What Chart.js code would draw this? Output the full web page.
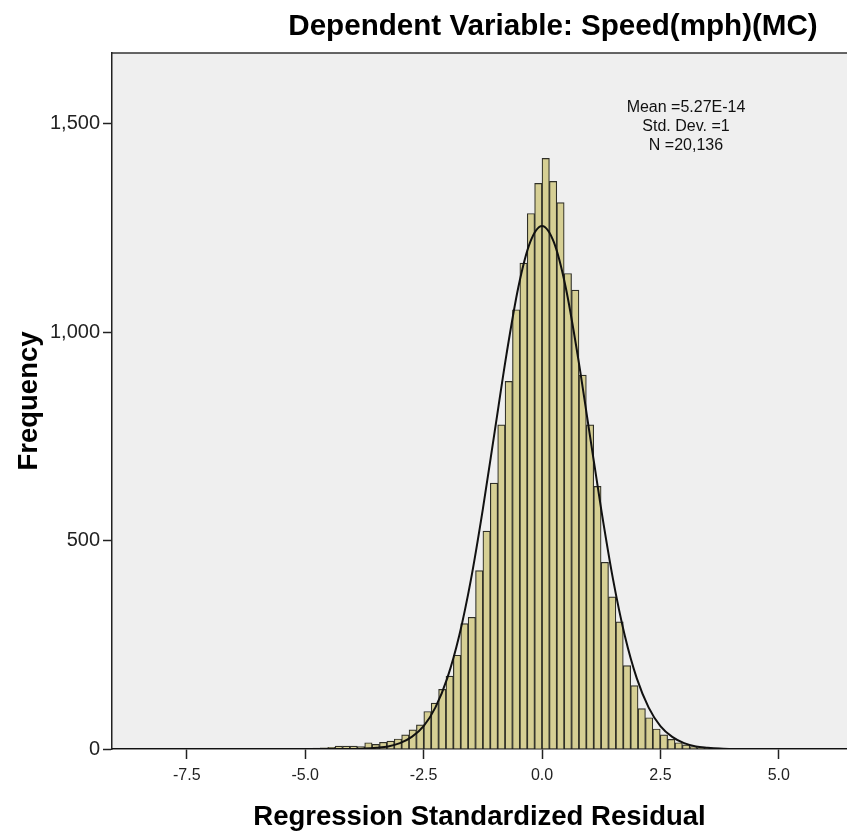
<!DOCTYPE html>
<html><head><meta charset="utf-8">
<script src="https://cdn.jsdelivr.net/npm/chart.js@4.4.1/dist/chart.umd.min.js"></script>
<style>html,body{margin:0;padding:0;background:#fff;}#wrap{width:847px;height:837px;position:relative;}</style>
</head><body><div id="wrap"><canvas id="c" width="847" height="837"></canvas></div>
<script>
const chartTitle = 'Dependent Variable: Speed(mph)(MC)';
const xAxisTitle = 'Regression Standardized Residual';
const yAxisTitle = 'Frequency';
const statsLines = ['Mean =5.27E-14', 'Std. Dev. =1', 'N =20,136'];

// Histogram bins (equal width), counts, left to right
const binWidth = 0.156;
const firstBinStart = -6.552;
const binCounts = [
  1, 0, 1, 0, 0, 1, 0, 1, 1, 0,
  1, 2, 3, 4, 7, 7, 7, 6, 15, 11,
  16, 19, 24, 34, 46, 58, 90, 110, 143, 175,
  225, 301, 316, 428, 523, 638, 778, 882, 1054, 1166,
  1285, 1357,
  1417, 1362, 1311, 1141, 1101, 897, 778, 630, 448, 365,
  305, 200, 152, 97, 75, 48, 34, 23, 15, 10,
  6, 3, 2, 2, 1, 1, 1, 0, 1, 0,
  0, 1, 0, 0, 1
];

// Normal curve
const curveX = [-9.08, -5, -4.5, -4.25, -4, -3.75, -3.5, -3.25, -3, -2.75, -2.5, -2.25, -2, -1.75, -1.5, -1.25, -1, -0.75, -0.5, -0.25, 0,
                0.25, 0.5, 0.75, 1, 1.25, 1.5, 1.75, 2, 2.25, 2.5, 2.75, 3, 3.25, 3.5, 3.75, 4, 4.25, 4.5, 6.44];
const curveY = [0, 0, 0, 0, 0, 1, 3, 6, 14, 29, 55, 100, 170, 271, 407, 575, 761, 947, 1108, 1216, 1255,
                1216, 1108, 947, 761, 575, 407, 271, 170, 100, 55, 29, 14, 6, 3, 1, 0, 0, 0, 0];

const xTicks = [-7.5, -5.0, -2.5, 0.0, 2.5, 5.0];
const yTicks = [0, 500, 1000, 1500];

const FONT = '"Liberation Sans", Arial, Helvetica, sans-serif';

const bgPlugin = {
  id: 'bg',
  beforeDraw(chart) {
    const {ctx, chartArea: a} = chart;
    ctx.save();
    ctx.fillStyle = '#efefef';
    ctx.fillRect(a.left, a.top, a.right - a.left, a.bottom - a.top);
    ctx.strokeStyle = '#333';
    ctx.lineWidth = 1.5;
    ctx.beginPath();
    ctx.moveTo(a.left, a.top);
    ctx.lineTo(a.right, a.top);
    ctx.stroke();
    ctx.restore();
  },
  afterDraw(chart) {
    const {ctx} = chart;
    ctx.save();
    ctx.fillStyle = '#000';
    ctx.textAlign = 'center';
    ctx.textBaseline = 'middle';
    ctx.font = 'bold 29.6px ' + FONT;
    ctx.fillText(chartTitle, 553, 27);
    ctx.font = '16px ' + FONT;
    ctx.fillStyle = '#111';
    statsLines.forEach((t, i) => ctx.fillText(t, 686, 108 + i * 19));
    ctx.restore();
  }
};

const chart = new Chart(document.getElementById('c'), {
  data: {
    datasets: [
      {
        type: 'line', order: 0,
        data: curveX.map((x, i) => ({x, y: curveY[i]})),
        borderColor: '#111', borderWidth: 2, pointRadius: 0,
        cubicInterpolationMode: 'monotone', fill: false
      },
      {
        type: 'bar', order: 1,
        data: binCounts.map((v, i) => ({x: firstBinStart + (i + 0.5) * binWidth, y: v})),
        backgroundColor: '#d6cf94', borderColor: '#2f2f27', borderWidth: 1.2,
        barPercentage: 1, categoryPercentage: 1
      }
    ]
  },
  options: {
    responsive: false, animation: false, devicePixelRatio: 1,
    layout: {padding: {top: 53, left: 0, right: 0, bottom: 0}},
    plugins: {legend: {display: false}, tooltip: {enabled: false}},
    scales: {
      x: {
        type: 'linear', min: -9.08, max: 6.44, offset: false,
        afterBuildTicks: s => { s.ticks = xTicks.map(v => ({value: v})); },
        afterFit: s => { s.height = 88; },
        ticks: {callback: v => Number(v).toFixed(1), font: {family: FONT, size: 16}, color: '#222', padding: 7, maxRotation: 0, autoSkip: false},
        grid: {offset: false, drawOnChartArea: false, tickLength: 10, tickColor: '#222', tickWidth: 1.5},
        border: {color: '#222', width: 1.5},
        title: {display: true, text: xAxisTitle, color: '#000', font: {family: FONT, size: 27.5, weight: 'bold'}, padding: {top: 0, bottom: 3}}
      },
      y: {
        min: 0, max: 1670,
        afterBuildTicks: s => { s.ticks = yTicks.map(v => ({value: v})); },
        afterFit: s => { s.width = 112; },
        ticks: {callback: v => Number(v).toLocaleString('en-US'), font: {family: FONT, size: 20}, color: '#222', padding: 3},
        grid: {drawOnChartArea: false, tickLength: 9, tickColor: '#222', tickWidth: 1.5},
        border: {color: '#222', width: 1.5},
        title: {display: true, text: yAxisTitle, color: '#000', font: {family: FONT, size: 27.5, weight: 'bold'}, padding: {top: 13, bottom: 0}}
      }
    }
  },
  plugins: [bgPlugin]
});
</script></body></html>
